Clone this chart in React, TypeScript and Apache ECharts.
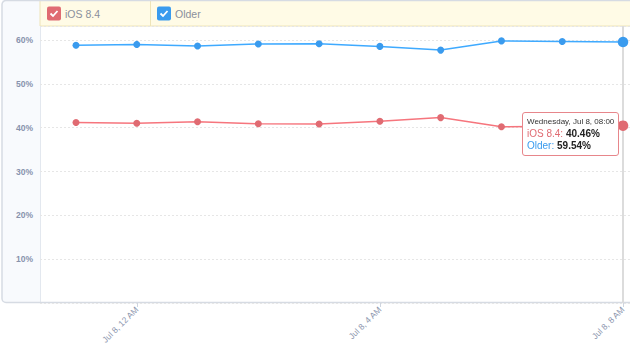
import React, { useEffect, useRef } from "react";
import * as echarts from "echarts";

const hours = [-1, 0, 1, 2, 3, 4, 5, 6, 7, 8];
const timeLabels = [
  "Tuesday, Jul 7, 23:00",
  "Wednesday, Jul 8, 00:00",
  "Wednesday, Jul 8, 01:00",
  "Wednesday, Jul 8, 02:00",
  "Wednesday, Jul 8, 03:00",
  "Wednesday, Jul 8, 04:00",
  "Wednesday, Jul 8, 05:00",
  "Wednesday, Jul 8, 06:00",
  "Wednesday, Jul 8, 07:00",
  "Wednesday, Jul 8, 08:00",
];
const iosValues = [41.2, 41.0, 41.35, 40.9, 40.85, 41.45, 42.3, 40.2, 40.35, 40.46];
const olderValues = [58.8, 59.0, 58.65, 59.1, 59.15, 58.55, 57.7, 59.8, 59.65, 59.54];
const xTickHours = [0, 4, 8];
const xTickLabels = ["Jul 8, 12 AM", "Jul 8, 4 AM", "Jul 8, 8 AM"];
const yTicks = [10, 20, 30, 40, 50, 60];
const seriesNames = ["iOS 8.4", "Older"];

const RED = "#e06b72";
const BLUE = "#3a9bee";
const FONT = "'Liberation Sans', Arial, sans-serif";

export default function App() {
  const ref = useRef<HTMLDivElement>(null);
  useEffect(() => {
    document.body.style.margin = "0";
    const chart = echarts.init(ref.current!, null, { renderer: "svg" });
    const option: any = {
      animation: false,
      textStyle: { fontFamily: FONT },
      grid: { left: 40, right: 0, top: 26, bottom: 50, containLabel: false },
      xAxis: {
        type: "value",
        min: -1.592,
        max: 8.115,
        axisLine: { show: false },
        splitLine: { show: false },
        axisTick: {
          show: true,
          customValues: xTickHours,
          length: 4,
          lineStyle: { color: "#cfd5df" },
        },
        axisLabel: {
          customValues: xTickHours,
          rotate: 45,
          fontSize: 8.5,
          color: "#8c96ae",
          margin: 5,
          formatter: (v: number) => {
            const i = xTickHours.indexOf(Math.round(v));
            return i >= 0 ? xTickLabels[i] : "";
          },
        },
      },
      yAxis: {
        type: "value",
        min: 0,
        max: 63.2,
        interval: 10,
        axisLine: { show: false },
        axisTick: { show: false },
        splitLine: {
          lineStyle: { color: "#e6e6e6", type: [2, 2] },
        },
        axisLabel: {
          fontSize: 8.5,
          fontWeight: "bold",
          color: "#8893ad",
          margin: 7,
          formatter: (v: number) => (yTicks.indexOf(v) >= 0 ? v + "%" : ""),
        },
      },
      axisPointer: { z: 1 },
      tooltip: {
        trigger: "axis",
        showDelay: 0,
        transitionDuration: 0,
        alwaysShowContent: true,
        backgroundColor: "#ffffff",
        borderColor: "#e7868b",
        borderWidth: 1,
        padding: [3, 4],
        extraCssText: "box-shadow:none;border-radius:3px;line-height:12px;",
        axisPointer: {
          type: "line",
          z: 1,
          lineStyle: { color: "#dcdcdc", width: 2, type: "solid" },
        },
        position: () => [522, 112],
        formatter: (params: any[]) => {
          const idx = params[0].dataIndex;
          let html = `<div style="font-family:${FONT};font-size:8px;color:#333">${timeLabels[idx]}</div>`;
          params.forEach((p: any) => {
            html += `<div style="font-family:${FONT};font-size:10px"><span style="color:${p.color}">${p.seriesName}:</span> <b style="color:#222">${p.value[1].toFixed(2)}%</b></div>`;
          });
          return html;
        },
      },
      series: [
        {
          name: seriesNames[0],
          type: "line",
          z: 3,
          data: hours.map((h, i) => [h, iosValues[i]]),
          color: RED,
          symbol: "circle",
          symbolSize: 7,
          lineStyle: { width: 1.5, color: RED },
          itemStyle: { color: RED },
          emphasis: { scale: 1.5, lineStyle: { width: 1.5 }, itemStyle: { color: RED, borderWidth: 0 } },
        },
        {
          name: seriesNames[1],
          type: "line",
          z: 3,
          data: hours.map((h, i) => [h, olderValues[i]]),
          color: BLUE,
          symbol: "circle",
          symbolSize: 7,
          lineStyle: { width: 1.5, color: BLUE },
          itemStyle: { color: BLUE },
          emphasis: { scale: 1.5, lineStyle: { width: 1.5 }, itemStyle: { color: BLUE, borderWidth: 0 } },
        },
      ],
      graphic: [
        {
          type: "rect",
          z: -10,
          shape: { x: 2, y: 0, width: 38, height: 302 },
          style: { fill: "#f8fafd" },
        },
        {
          type: "line",
          z: -9,
          shape: { x1: 40.5, y1: 0, x2: 40.5, y2: 302 },
          style: { stroke: "#e3e8ef", lineWidth: 1 },
        },
        {
          type: "rect",
          z: -8,
          shape: { x: 40, y: 0, width: 595, height: 26 },
          style: { fill: "#fffbe6", stroke: "#eee4b8", lineWidth: 1 },
        },
        {
          type: "line",
          z: -7,
          shape: { x1: 150.5, y1: 0, x2: 150.5, y2: 26 },
          style: { stroke: "#eee4b8", lineWidth: 1 },
        },
        {
          type: "rect",
          z: -6,
          shape: { x: 2, y: 0.5, width: 640, height: 302, r: 4 },
          style: { fill: "none", stroke: "#d6dbe3", lineWidth: 1.5 },
        },
        {
          type: "rect",
          z: 10,
          shape: { x: 47, y: 6.5, width: 14, height: 14, r: 2 },
          style: { fill: RED },
        },
        {
          type: "polyline",
          z: 11,
          shape: { points: [[50.5, 13.5], [53, 16], [57.5, 11]] },
          style: { stroke: "#fff", lineWidth: 1.8, fill: "none" },
        },
        {
          type: "text",
          z: 10,
          x: 65,
          y: 14,
          style: {
            text: seriesNames[0],
            fontSize: 10.5,
            fontFamily: FONT,
            fill: "#8a8f9c",
            verticalAlign: "middle",
          },
        },
        {
          type: "rect",
          z: 10,
          shape: { x: 157, y: 6.5, width: 14, height: 14, r: 2 },
          style: { fill: BLUE },
        },
        {
          type: "polyline",
          z: 11,
          shape: { points: [[160.5, 13.5], [163, 16], [167.5, 11]] },
          style: { stroke: "#fff", lineWidth: 1.8, fill: "none" },
        },
        {
          type: "text",
          z: 10,
          x: 175,
          y: 14,
          style: {
            text: seriesNames[1],
            fontSize: 10.5,
            fontFamily: FONT,
            fill: "#8a8f9c",
            verticalAlign: "middle",
          },
        },
      ],
    };
    chart.setOption(option);
    chart.dispatchAction({ type: "showTip", seriesIndex: 0, dataIndex: 9 });
    return () => chart.dispose();
  }, []);
  return <div ref={ref} style={{ width: 630, height: 353 }} />;
}
